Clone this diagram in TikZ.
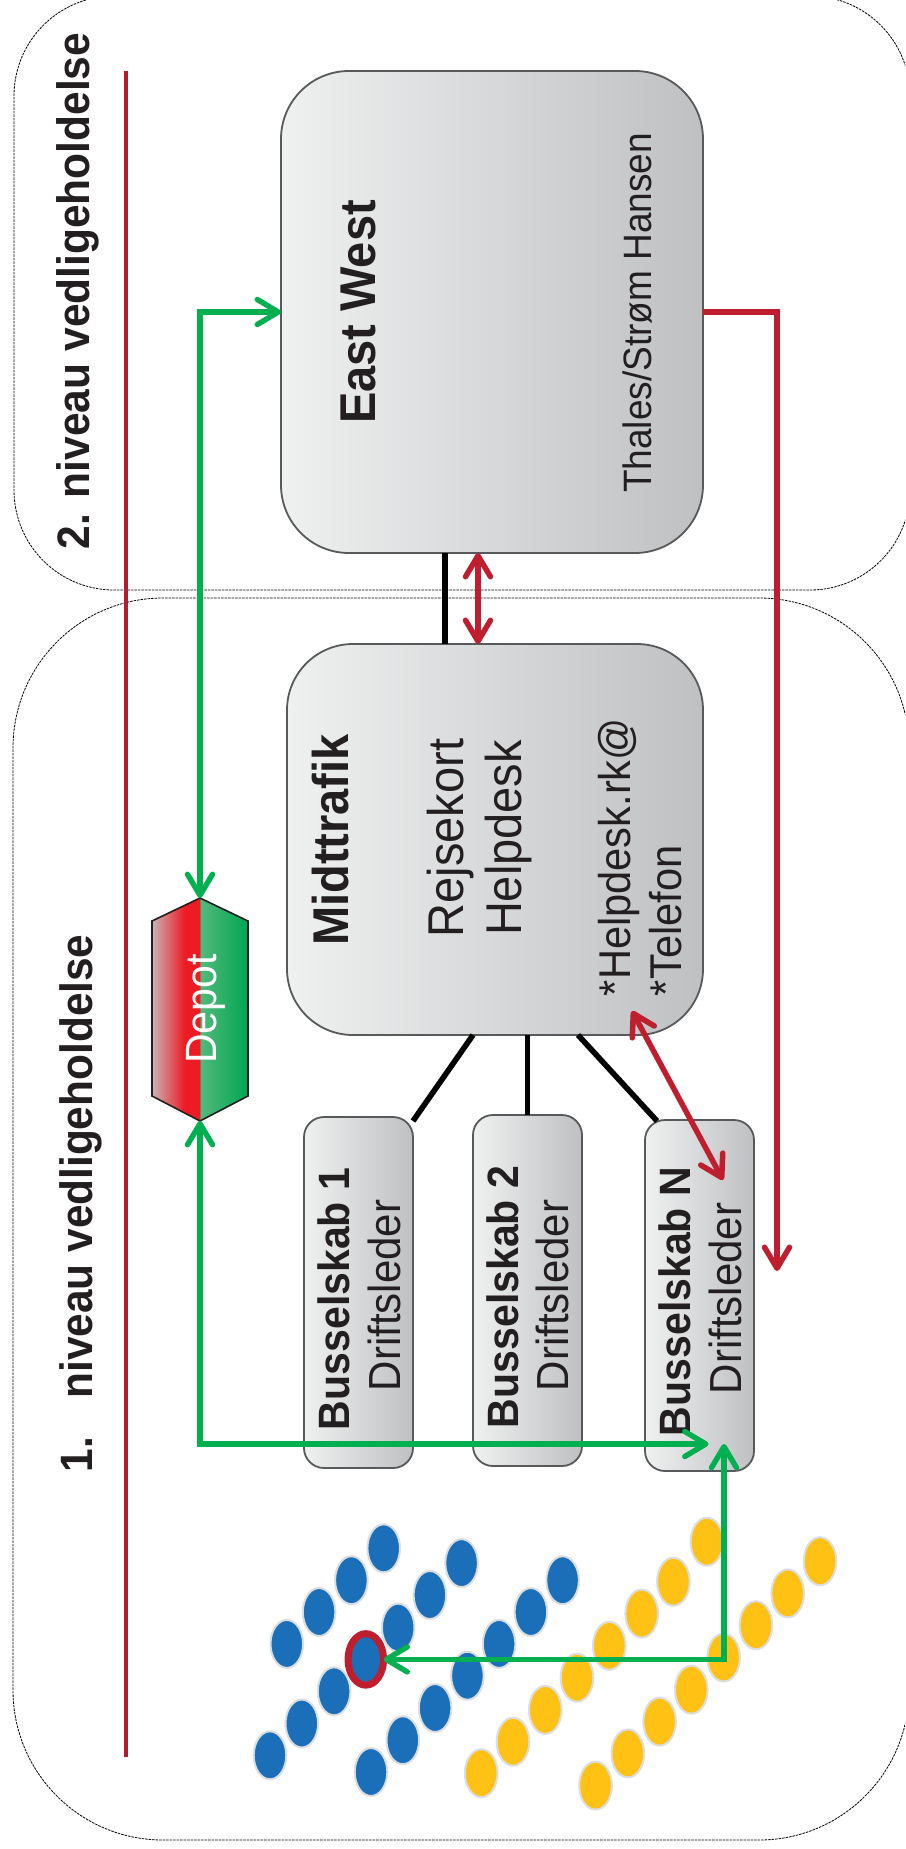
\documentclass[tikz,border=0pt]{standalone}
\usepackage{fontspec}
\usepackage{graphicx}
\setmainfont{Liberation Sans}
\usetikzlibrary{arrows.meta,shapes.geometric}
\definecolor{ink}{HTML}{231F20}
\definecolor{boxL}{HTML}{EFF0F0}
\definecolor{boxR}{HTML}{BFC0C2}
\definecolor{boxline}{HTML}{58595B}
\definecolor{redline}{HTML}{BE1E2D}
\definecolor{greenline}{HTML}{00B050}
\definecolor{dotblue}{HTML}{1B6FB8}
\definecolor{dotyellow}{HTML}{FFC113}
\definecolor{dotedge}{HTML}{DCDDDE}
\definecolor{depA}{HTML}{C9B4B6}
\definecolor{depB}{HTML}{ED1C24}
\definecolor{depC}{HTML}{52B97C}
\definecolor{depD}{HTML}{00A651}
\pgfdeclarehorizontalshading{depotshade}{100bp}{color(0bp)=(depA);color(25bp)=(depA);color(42bp)=(depB);color(50bp)=(depB);color(50.01bp)=(depC);color(75bp)=(depD);color(100bp)=(depD)}
\newcommand{\fsz}[1]{\fontsize{#1}{#1}\selectfont}
\newcommand{\tall}[1]{\scalebox{1}[1.07]{#1}}
\tikzset{
  level/.style={draw=black,line width=0.8pt,dash pattern=on 2.5pt off 1pt,rectangle,inner sep=0pt,outer sep=0pt},
  greybox/.style={draw=boxline,line width=1.8pt,rectangle,inner sep=0pt,outer sep=0pt,left color=boxL,right color=boxR},
  label/.style={rotate=90,anchor=base,inner sep=0pt,outer sep=0pt,text=ink},
  labelstart/.style={rotate=90,anchor=base west,inner sep=0pt,outer sep=0pt,text=ink},
  openhead/.tip={Straight Barb[length=21pt,width=25pt,round]},
  redarrow/.style={draw=redline,line width=5.5pt},
  greenarrow/.style={draw=greenline,line width=5.4pt},
  blackline/.style={draw=black,line width=5.6pt},
  busdot/.style={ellipse,draw=dotedge,line width=2pt,minimum width=32.6pt,minimum height=48pt,inner sep=0pt,outer sep=0pt},
}
\begin{document}
\begin{tikzpicture}[x=1pt,y=-1pt]
\useasboundingbox (0,0) rectangle (905,1849);
\fill[white] (0,0) rectangle (905,1849);
\clip (0,0) rectangle (905,1849);
% containers
\node[level,rounded corners=100pt,minimum width=896pt,minimum height=594pt] (lvltwo) at (462,293) {};
\node[level,rounded corners=150pt,minimum width=896pt,minimum height=1242pt] (lvlone) at (461,1219) {};
% divider
\coordinate (railtop) at (126,71.5);
\coordinate (railbot) at (126,1756.5);
\draw[draw=redline!95!black,line width=3.4pt] (railtop) -- (railbot);
% boxes
\node[greybox,rounded corners=68pt,minimum width=422pt,minimum height=482pt] (ew) at (492,312) {};
\node[greybox,rounded corners=66pt,minimum width=416pt,minimum height=391pt] (mid) at (495,839.5) {};
\node[greybox,rounded corners=20pt,minimum width=109pt,minimum height=351pt] (busa) at (358.5,1292.5) {};
\node[greybox,rounded corners=20pt,minimum width=109pt,minimum height=351pt] (busb) at (527.5,1290.5) {};
\node[greybox,rounded corners=20pt,minimum width=109pt,minimum height=351pt] (busn) at (699.5,1295.5) {};
% depot
\coordinate (depotN) at (200,898);
\coordinate (depotS) at (200,1121);
\draw[draw=ink,line width=1.6pt,shading=depotshade] (depotN) -- (248,921) -- (248,1096) -- (depotS) -- (152,1096) -- (152,921) -- cycle;
\node[label,text=white,font=\fsz{41}] (depot) at (216,1009) {\tall{Depot}};
% dots
\foreach \n/\x/\y in {a1/286.8/1643.9,a2/319.1/1612,a3/351.4/1580.2,a4/383.7/1548.3,
  b1/270/1755.3,b2/301.8/1723.5,b3/334.1/1691.3,b5/398.2/1627.6,b6/429.9/1595,b7/461.6/1563.1,
  c1/371/1772,c2/402.8/1740.2,c3/435.1/1708,c4/467.4/1675.7,c5/499.1/1643.9,c6/530.9/1612,c7/562.6/1580.2}
  \node[busdot,fill=dotblue] (dot\n) at (\x,\y) {};
\foreach \n/\x/\y in {d1/481.2/1773.2,d2/513/1741.7,d3/545.3/1709.9,d4/577/1677.7,d5/609.3/1645.8,d6/641.7/1613.6,d7/673.4/1581.7,d8/706.9/1541.7,
  e1/595.5/1785.6,e2/627.8/1753.4,e3/659.6/1721.6,e4/691.3/1689.7,e5/723.6/1657.5,e6/755.9/1625.2,e7/787.7/1593.4,e8/820/1561.2}
  \node[busdot,fill=dotyellow] (dot\n) at (\x,\y) {};
\node[ellipse,draw=redline,fill=dotblue,line width=7pt,minimum width=35.5pt,minimum height=51.5pt,inner sep=0pt,outer sep=0pt] (ring) at (365.8,1659.4) {};
% labels
\node[label,font=\bfseries\fsz{42.5}] (ttwo) at (89,291) {\tall{2. niveau vedligeholdelse}};
\node[labelstart,font=\bfseries\fsz{42.4}] (tone) at (92,1472) {\tall{1.\hspace{38pt}niveau vedligeholdelse}};
\node[label,font=\bfseries\fsz{47}] (ewa) at (375,312) {\tall{East West}};
\node[label,font=\fsz{37}] (ewb) at (651,313) {\tall{Thales/Strøm Hansen}};
\node[label,font=\bfseries\fsz{47}] (mida) at (348,840) {\tall{Midttrafik}};
\node[label,font=\fsz{47}] (midb) at (463,838) {\tall{Rejsekort}};
\node[label,font=\fsz{47}] (midc) at (521,838) {\tall{Helpdesk}};
\node[labelstart,font=\fsz{41.6}] (midd) at (630,996) {\tall{*Helpdesk.rk@}};
\node[labelstart,font=\fsz{41.6}] (mide) at (681,996) {\tall{*Telefon}};
\node[labelstart,font=\bfseries\fsz{41}] (busat) at (349,1430) {\tall{Busselskab 1}};
\node[labelstart,font=\fsz{42}] (busas) at (400,1391) {\tall{Driftsleder}};
\node[labelstart,font=\bfseries\fsz{41}] (busbt) at (518,1428) {\tall{Busselskab 2}};
\node[labelstart,font=\fsz{42}] (busbs) at (568,1391) {\tall{Driftsleder}};
\node[labelstart,font=\bfseries\fsz{41}] (busnt) at (690,1436) {\tall{Busselskab N}};
\node[labelstart,font=\fsz{42}] (busns) at (741.5,1394) {\tall{Driftsleder}};
% black links
\draw[blackline] ([xshift=-47pt]ew.south) -- ([xshift=-50pt]mid.north);
\draw[blackline] ([xshift=-22pt]mid.south) -- ([yshift=-4pt]busa.north east);
\draw[blackline] (busb.north |- mid.south) -- (busb.north);
\draw[blackline] ([xshift=83pt]mid.south) -- ([xshift=12pt,yshift=-1pt]busn.north west);
% red arrows
\draw[redarrow,openhead-openhead] ([xshift=-14pt]ew.south) -- ([xshift=-17pt]mid.north);
\draw[redarrow,openhead-openhead] ([xshift=137pt,yshift=24pt]mid.south) -- ([xshift=23.5pt,yshift=-60pt]busn.north);
\coordinate (redend) at (777,1271);
\draw[redarrow,-openhead] (ew.east) -| (redend);
% green arrows
\coordinate (gh) at (708.5,1444);
\coordinate (gv) at (724,1444);
\draw[greenarrow,openhead-openhead] (ew.west) -| (depotN);
\draw[greenarrow,openhead-openhead] (depotS) |- (gh);
\draw[greenarrow,openhead-openhead] (gv) |- (ring.east);
\end{tikzpicture}
\end{document}
